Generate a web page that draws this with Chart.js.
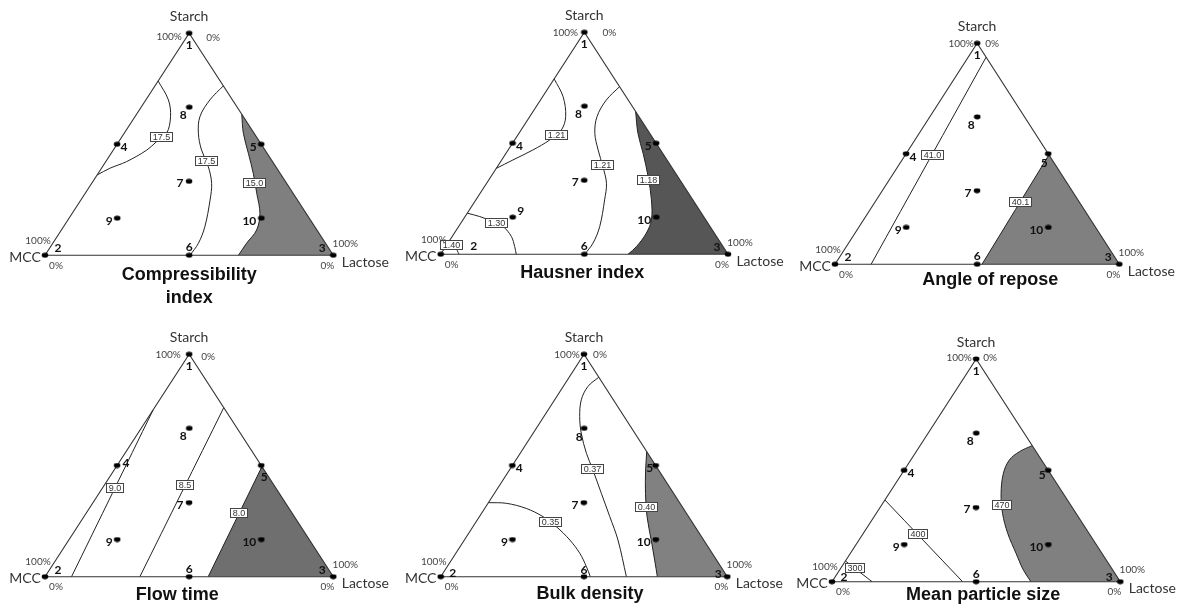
<!DOCTYPE html>
<html>
<head>
<meta charset="utf-8">
<script src="https://cdn.jsdelivr.net/npm/chart.js@4.4.1/dist/chart.umd.min.js"></script>
<style>
  html, body { margin: 0; padding: 0; background: #fff; }
  #wrap { position: relative; width: 1178px; height: 608px; overflow: hidden; background: #fff; }
  #wrap canvas { position: absolute; }
</style>
</head>
<body>
<div id="wrap"></div>
<script>
// Mixture components at the triangle vertices
const components = ['Starch', 'MCC', 'Lactose'];

// Design points of the mixture design: [starch %, MCC %, lactose %]
const designPoints = [
  [100, 0, 0], [0, 100, 0], [0, 0, 100],
  [50, 50, 0], [50, 0, 50], [0, 50, 50],
  [33.3, 33.3, 33.3], [66.7, 16.7, 16.7], [16.7, 66.7, 16.7], [16.7, 16.7, 66.7]
];
const pointNames = ['1', '2', '3', '4', '5', '6', '7', '8', '9', '10'];

const panelTitles = [
  ['Compressibility', 'index'], ['Hausner index'], ['Angle of repose'],
  ['Flow time'], ['Bulk density'], ['Mean particle size']
];

// Contour lines; every point is [starch %, lactose %] (MCC makes up the rest)
// Compressibility index
const ciLeft175  = [[78.5, 0], [70, 7.8], [62.5, 12.3], [55, 14.7], [51.2, 13.1], [47.4, 11.6], [42.2, 7.2], [39.2, 2.9], [36.2, 0]];
const ciMid175   = [[76.3, 23.7], [70, 22.2], [62.5, 22.5], [55, 25.7], [47.4, 30.6], [39.9, 36.7], [32.4, 41.6], [24.9, 44.8], [12.9, 49], [5.4, 50.5], [0, 50.3]];
const ciShade150 = [[63.5, 36.5], [55, 41.3], [45.9, 47.6], [36.9, 53.8], [27.9, 59.5], [18.9, 65.1], [11.4, 67.7], [5.4, 67.2], [0, 67.1]];
// Hausner index
const hiLeft121  = [[79, 0], [71, 7.1], [62, 12.5], [56, 14], [51.5, 12.2], [47, 8.6], [42.5, 3.9], [38.7, 0]];
const hiMid121   = [[75.5, 24.5], [69.5, 22.9], [62, 23.4], [54.5, 26.4], [47, 31.3], [39.5, 36.7], [32, 41.7], [24.5, 44.8], [12.5, 49.1], [5, 50.5], [0, 50.1]];
const hiShade118 = [[64.3, 35.7], [54.5, 41.4], [45.5, 47.7], [35, 54.7], [24.5, 61.1], [15.5, 65.6], [9.5, 66.8], [3.5, 66.4], [0, 65.2]];
const hiLow130   = [[18.5, 0], [17, 5.1], [14.7, 10.9], [12.5, 15.5], [8, 20.6], [3.5, 24], [0, 26.3]];
const hiCorner140 = [[5.1, 0], [3.3, 3.3], [0, 6.4]];
// Angle of repose
const arLine410  = [[93.7, 6.3], [0, 12.7]];
const arShade401 = [[49.5, 50.5], [0, 51.7]];
// Flow time
const ftLine90   = [[75, 0], [0, 9.2]];
const ftLine85   = [[76, 24], [0, 32.9]];
const ftShade80  = [[49.5, 50.5], [0, 56.6]];
// Bulk density
const bdMid037   = [[89.7, 10.3], [85.5, 8.6], [79.5, 9.3], [72, 12.5], [64.5, 16.8], [55.5, 23.1], [48, 29.1], [37.5, 37.3], [27, 45.5], [16.5, 53.6], [0, 64.8]];
const bdLow035   = [[33.3, 0], [33, 6.4], [30.7, 14.5], [27, 22.2], [22.5, 29.1], [16.5, 36.8], [10.5, 43.3], [4.5, 48.6], [0, 52.2]];
const bdShade040 = [[56.2, 43.8], [48, 47.5], [37.5, 52.7], [27, 58.5], [16.5, 65.2], [7.5, 70.9], [0, 75.6]];
// Mean particle size
const mpLine400  = [[36.7, 0], [0, 45.3]];
const mpLine300  = [[9.3, 0], [0, 13.9]];
const mpShade470 = [[61.1, 38.9], [58.4, 35.8], [54.6, 34.2], [48.7, 35.1], [39.7, 38.8], [30.7, 43.8], [21.7, 50.1], [12.7, 57.5], [5.2, 63.8], [0, 69]];

// Vertex compositions [starch %, lactose %]
const STARCH = [100, 0], MCC = [0, 0], LACTOSE = [0, 100];

// Ternary composition -> plot plane (x across the base, y = starch fraction)
function tern(c) { return { x: c[1] / 100 + c[0] / 200, y: c[0] / 100 }; }

// Layout and styling of the six plots
const panels = [
  { box: [0, 0, 393, 304], pad: { left: 45, right: 59.7, top: 33.3, bottom: 48.7 }, shade: '#7f7f7f',
    lines: [{ data: ciLeft175, label: '17.5', at: 0.45 }, { data: ciMid175, label: '17.5', at: 0.46 }],
    shaded: { data: ciShade150, label: '15.0', at: 0.47 },
    title: { dx: 0, dy: 20 }, topPct: { l: [-20, 3], r: [24, 4] }, nums: {} },
  { box: [393, 0, 393, 304], pad: { left: 47.7, right: 58, top: 32.3, bottom: 49.7 }, shade: '#565656',
    lines: [{ data: hiLeft121, label: '1.21', at: 0.47 }, { data: hiMid121, label: '1.21', at: 0.48 },
            { data: hiLow130, label: '1.30', at: 0.45 }, { data: hiCorner140, label: '1.40', at: 0.25 }],
    shaded: { data: hiShade118, label: '1.18', at: 0.46 },
    title: { dx: -2, dy: 19 }, topPct: { l: [-19, 0], r: [25, 0] }, nums: { '9': [8, -6], '2': [33, -8] } },
  { box: [786, 0, 392, 304], pad: { left: 49, right: 58.7, top: 43.3, bottom: 39.7 }, shade: '#808080',
    lines: [{ data: arLine410, label: '41.0', at: 0.47 }],
    shaded: { data: arShade401, label: '40.1', at: 0.43 },
    title: { dx: 13, dy: 16 }, topPct: { l: [-16, 0], r: [15, 0] }, nums: { '5': [-4, 9] } },
  { box: [0, 304, 393, 304], pad: { left: 45, right: 59.7, top: 50.3, bottom: 31.3 }, shade: '#6f6f6f',
    lines: [{ data: ftLine90, label: '9.0', at: 0.47 }, { data: ftLine85, label: '8.5', at: 0.46 }],
    shaded: { data: ftShade80, label: '8.0', at: 0.42 },
    title: { dx: -12, dy: 18 }, topPct: { l: [-21, 0], r: [19, 2] }, nums: { '4': [9, -2], '5': [3, 12] } },
  { box: [393, 304, 393, 304], pad: { left: 47.7, right: 58.7, top: 50.3, bottom: 31.3 }, shade: '#818181',
    lines: [{ data: bdMid037, label: '0.37', at: 0.47 }, { data: bdLow035, label: '0.35', at: 0.49 }],
    shaded: { data: bdShade040, label: '0.40', at: 0.44 },
    title: { dx: 6, dy: 17 }, topPct: { l: [-17, 0], r: [16, 0] },
    nums: { '2': [12, -4], '3': [-9, -3], '5': [-6, 3], '6': [0, -7], '8': [-5, 9] } },
  { box: [786, 304, 392, 304], pad: { left: 46, right: 57.7, top: 55, bottom: 26.3 }, shade: '#808080',
    lines: [{ data: mpLine400, label: '400', at: 0.42 }, { data: mpLine300, label: '300', at: 0.35 }],
    shaded: { data: mpShade470, label: '470', at: 0.47 },
    title: { dx: 7, dy: 13 }, topPct: { l: [-17, -1], r: [14, -1] }, nums: { '2': [12, -5], '3': [-11, -5], '5': [-6, 5] } }
];

// Default placement of the design-point numbers relative to their markers
const numOffsets = {
  '1': [0, 12], '2': [13, -7], '3': [-11, -7], '4': [7, 3], '5': [-8, 3],
  '6': [0, -8], '7': [-9, 2], '8': [-6, 8], '9': [-8, 3], '10': [-12, 3]
};

// Small elliptical marker used for the design points
const marker = document.createElement('canvas');
marker.width = 8; marker.height = 6;
(function () {
  const m = marker.getContext('2d');
  m.fillStyle = '#000';
  m.beginPath(); m.ellipse(4, 3, 3.3, 2.4, 0, 0, Math.PI * 2); m.fill();
})();

// Closed region from a contour to the lactose corner; doubled corner points keep the edges straight
function shadePolygon(path) {
  const first = path[0], last = path[path.length - 1];
  return [first, ...path, last, LACTOSE, LACTOSE, first, first].map(tern);
}

function pointAlong(pts, t) {
  const seg = []; let total = 0;
  for (let i = 1; i < pts.length; i++) {
    const d = Math.hypot(pts[i].x - pts[i - 1].x, pts[i].y - pts[i - 1].y);
    seg.push(d); total += d;
  }
  let rest = total * t;
  for (let i = 0; i < seg.length; i++) {
    if (rest <= seg[i] || i === seg.length - 1) {
      const f = seg[i] ? Math.min(1, rest / seg[i]) : 0;
      return { x: pts[i].x + f * (pts[i + 1].x - pts[i].x), y: pts[i].y + f * (pts[i + 1].y - pts[i].y) };
    }
    rest -= seg[i];
  }
  return pts[0];
}

function makeAnnotations(panel, title, labelSets) {
  return {
    id: 'ternaryText',
    afterDatasetsDraw(chart) {
      const ctx = chart.ctx;
      const xs = chart.scales.x, ys = chart.scales.y;
      const px = c => { const t = tern(c); return [xs.getPixelForValue(t.x), ys.getPixelForValue(t.y)]; };
      ctx.save();
      ctx.textAlign = 'center';
      ctx.textBaseline = 'middle';

      // contour value boxes
      ctx.font = '9px "Liberation Sans", Arial, sans-serif';
      labelSets.forEach(ls => {
        const pts = chart.getDatasetMeta(ls.index).data.map(e => ({ x: e.x, y: e.y }));
        const p = pointAlong(pts, ls.at);
        const w = Math.round(ctx.measureText(ls.label).width + 5), h = 10;
        const bx = Math.round(p.x - w / 2), by = Math.round(p.y - h / 2);
        ctx.fillStyle = '#fff';
        ctx.fillRect(bx, by, w, h);
        ctx.strokeStyle = '#444'; ctx.lineWidth = 1;
        ctx.strokeRect(bx + 0.5, by + 0.5, w - 1, h - 1);
        ctx.fillStyle = '#333';
        ctx.fillText(ls.label, bx + w / 2, by + h / 2 + 0.5);
      });

      // design-point numbers
      ctx.font = 'bold 12px Lato, "Liberation Sans", sans-serif';
      ctx.fillStyle = '#111';
      designPoints.forEach((d, i) => {
        const name = pointNames[i];
        const off = panel.nums[name] || numOffsets[name];
        const [x, y] = px([d[0], d[2]]);
        ctx.fillText(name, x + off[0], y + off[1]);
      });

      // vertex names and percentage marks
      const [sx, sy] = px(STARCH), [mx, my] = px(MCC), [lx, ly] = px(LACTOSE);
      ctx.fillStyle = '#333';
      ctx.font = '14px Lato, "Liberation Sans", sans-serif';
      ctx.fillText(components[0], sx, sy - 17);
      ctx.fillText(components[1], mx - 20, my + 2);
      ctx.fillText(components[2], lx + 32, ly + 7);
      ctx.font = '10px Lato, "Liberation Sans", sans-serif';
      ctx.fillStyle = '#444';
      ctx.fillText('100%', sx + panel.topPct.l[0], sy + panel.topPct.l[1]);
      ctx.fillText('0%', sx + panel.topPct.r[0], sy + panel.topPct.r[1]);
      ctx.fillText('100%', mx - 7, my - 15);
      ctx.fillText('0%', mx + 11, my + 10);
      ctx.fillText('100%', lx + 12, ly - 12);
      ctx.fillText('0%', lx - 6, ly + 10);

      // plot title
      ctx.font = 'bold 18px "Liberation Sans", Arial, sans-serif';
      ctx.fillStyle = '#111';
      const cx = (mx + lx) / 2 + panel.title.dx;
      title.forEach((line, k) => ctx.fillText(line, cx, my + panel.title.dy + k * 23));
      ctx.restore();
    }
  };
}

const wrap = document.getElementById('wrap');

panels.forEach((panel, pi) => {
  const canvas = document.createElement('canvas');
  const [left, top, w, h] = panel.box;
  canvas.width = w; canvas.height = h;
  canvas.style.left = left + 'px'; canvas.style.top = top + 'px';
  canvas.style.width = w + 'px'; canvas.style.height = h + 'px';
  wrap.appendChild(canvas);

  const datasets = [];
  const labelSets = [];

  // shaded region
  datasets.push({
    data: shadePolygon(panel.shaded.data), showLine: true, fill: 'shape',
    backgroundColor: panel.shade, borderWidth: 0, borderColor: 'rgba(0,0,0,0)',
    pointRadius: 0, tension: 0.35, order: 10
  });

  // contour lines (including the border of the shaded region)
  [...panel.lines, panel.shaded].forEach(line => {
    labelSets.push({ index: datasets.length, label: line.label, at: line.at });
    datasets.push({
      data: line.data.map(tern), showLine: true, fill: false,
      borderColor: '#222', borderWidth: 1, pointRadius: 0, tension: 0.35, clip: false, order: 5
    });
  });

  // triangle outline
  datasets.push({
    data: [MCC, STARCH, LACTOSE, MCC].map(tern), showLine: true, fill: false,
    borderColor: '#333', borderWidth: 1.1, pointRadius: 0, tension: 0, clip: false, order: 4
  });

  // design points
  datasets.push({
    data: designPoints.map(d => tern([d[0], d[2]])), showLine: false,
    pointStyle: marker, pointRadius: 3, clip: false, order: 1
  });

  new Chart(canvas, {
    type: 'scatter',
    data: { datasets },
    options: {
      responsive: false, animation: false, events: [], devicePixelRatio: 1,
      layout: { padding: panel.pad },
      scales: {
        x: { type: 'linear', min: 0, max: 1, display: false },
        y: { type: 'linear', min: 0, max: 1, display: false }
      },
      plugins: { legend: { display: false }, tooltip: { enabled: false } }
    },
    plugins: [makeAnnotations(panel, panelTitles[pi], labelSets)]
  });
});
</script>
</body>
</html>
